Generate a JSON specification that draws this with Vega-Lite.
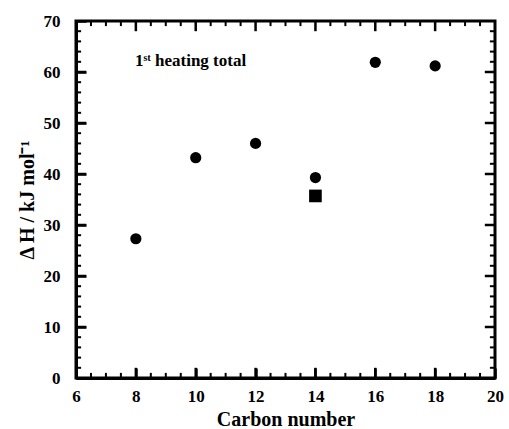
{
  "$schema": "https://vega.github.io/schema/vega-lite/v6.json",
  "width": 419,
  "height": 357,
  "autosize": {"type": "none"},
  "padding": {"left": 76, "top": 21, "right": 14, "bottom": 51},
  "config": {
    "view": {"stroke": "black", "strokeWidth": 3},
    "font": "Liberation Serif",
    "axis": {
      "domain": true,
      "domainColor": "black",
      "domainWidth": 3,
      "grid": true,
      "gridOpacity": 0,
      "tickColor": "black",
      "labelColor": "black",
      "titleColor": "black",
      "labelFont": "Liberation Serif",
      "titleFont": "Liberation Serif",
      "labelFontWeight": "bold",
      "titleFontWeight": "bold",
      "labelFontSize": 17,
      "titleFontSize": 20,
      "labelFlush": false,
      "labelOverlap": false
    }
  },
  "datasets": {
    "circles": [
      {"carbon": 8, "dH": 27.3},
      {"carbon": 10, "dH": 43.2},
      {"carbon": 12, "dH": 46.0},
      {"carbon": 14, "dH": 39.3},
      {"carbon": 16, "dH": 61.9},
      {"carbon": 18, "dH": 61.2}
    ],
    "squares": [
      {"carbon": 14, "dH": 35.7}
    ],
    "note": [
      {"carbon": 7.97, "dH": 62.2, "label": "1ˢᵗ heating total"}
    ],
    "xMajor": [{"v": 8}, {"v": 10}, {"v": 12}, {"v": 14}, {"v": 16}, {"v": 18}],
    "xMinor": [{"v": 6.5}, {"v": 7}, {"v": 7.5}, {"v": 8.5}, {"v": 9}, {"v": 9.5}, {"v": 10.5}, {"v": 11}, {"v": 11.5}, {"v": 12.5}, {"v": 13}, {"v": 13.5}, {"v": 14.5}, {"v": 15}, {"v": 15.5}, {"v": 16.5}, {"v": 17}, {"v": 17.5}, {"v": 18.5}, {"v": 19}, {"v": 19.5}],
    "yMajor": [{"v": 10}, {"v": 20}, {"v": 30}, {"v": 40}, {"v": 50}, {"v": 60}],
    "yMinor": [{"v": 2}, {"v": 4}, {"v": 6}, {"v": 8}, {"v": 12}, {"v": 14}, {"v": 16}, {"v": 18}, {"v": 22}, {"v": 24}, {"v": 26}, {"v": 28}, {"v": 32}, {"v": 34}, {"v": 36}, {"v": 38}, {"v": 42}, {"v": 44}, {"v": 46}, {"v": 48}, {"v": 52}, {"v": 54}, {"v": 56}, {"v": 58}, {"v": 62}, {"v": 64}, {"v": 66}, {"v": 68}]
  },
  "resolve": {"axis": {"x": "independent", "y": "independent"}},
  "layer": [
    {
      "data": {"name": "circles"},
      "mark": {"type": "point", "shape": "circle", "filled": true, "color": "black", "opacity": 1, "size": 125},
      "encoding": {
        "x": {
          "field": "carbon", "type": "quantitative",
          "scale": {"domain": [6, 20], "nice": false, "zero": false},
          "axis": {
            "orient": "bottom",
            "values": [6, 8, 10, 12, 14, 16, 18, 20],
            "tickSize": -10, "tickWidth": 2.5,
            "labelPadding": 20,
            "title": "Carbon number", "titlePadding": 5
          }
        },
        "y": {
          "field": "dH", "type": "quantitative",
          "scale": {"domain": [0, 70], "nice": false, "zero": true},
          "axis": {
            "orient": "left",
            "values": [0, 10, 20, 30, 40, 50, 60, 70],
            "tickSize": -10, "tickWidth": 2.5,
            "labelPadding": 26,
            "title": "Δ H / kJ mol⁻¹", "titlePadding": 6
          }
        }
      }
    },
    {
      "data": {"name": "squares"},
      "mark": {"type": "point", "shape": "square", "filled": true, "color": "black", "opacity": 1, "size": 160},
      "encoding": {
        "x": {"field": "carbon", "type": "quantitative", "axis": null},
        "y": {"field": "dH", "type": "quantitative", "axis": null}
      }
    },
    {
      "data": {"name": "note"},
      "mark": {"type": "text", "align": "left", "baseline": "middle", "font": "Liberation Serif", "fontWeight": "bold", "fontSize": 17, "color": "black"},
      "encoding": {
        "x": {"field": "carbon", "type": "quantitative", "axis": null},
        "y": {"field": "dH", "type": "quantitative", "axis": null},
        "text": {"field": "label"}
      }
    },
    {
      "data": {"name": "xMajor"},
      "mark": {"type": "rule", "color": "black", "strokeWidth": 2.5},
      "encoding": {
        "x": {"field": "v", "type": "quantitative", "axis": null},
        "y": {"datum": 0, "type": "quantitative", "axis": null},
        "y2": {"datum": 2}
      }
    },
    {
      "data": {"name": "xMajor"},
      "mark": {"type": "rule", "color": "black", "strokeWidth": 2.5},
      "encoding": {
        "x": {"field": "v", "type": "quantitative", "axis": null},
        "y": {"datum": 70, "type": "quantitative", "axis": null},
        "y2": {"datum": 68}
      }
    },
    {
      "data": {"name": "xMinor"},
      "mark": {"type": "rule", "color": "black", "strokeWidth": 2},
      "encoding": {
        "x": {"field": "v", "type": "quantitative", "axis": null},
        "y": {"datum": 0, "type": "quantitative", "axis": null},
        "y2": {"datum": 1}
      }
    },
    {
      "data": {"name": "xMinor"},
      "mark": {"type": "rule", "color": "black", "strokeWidth": 2},
      "encoding": {
        "x": {"field": "v", "type": "quantitative", "axis": null},
        "y": {"datum": 70, "type": "quantitative", "axis": null},
        "y2": {"datum": 69}
      }
    },
    {
      "data": {"name": "yMajor"},
      "mark": {"type": "rule", "color": "black", "strokeWidth": 2.5},
      "encoding": {
        "y": {"field": "v", "type": "quantitative", "axis": null},
        "x": {"datum": 6, "type": "quantitative", "axis": null},
        "x2": {"datum": 6.34}
      }
    },
    {
      "data": {"name": "yMajor"},
      "mark": {"type": "rule", "color": "black", "strokeWidth": 2.5},
      "encoding": {
        "y": {"field": "v", "type": "quantitative", "axis": null},
        "x": {"datum": 20, "type": "quantitative", "axis": null},
        "x2": {"datum": 19.66}
      }
    },
    {
      "data": {"name": "yMinor"},
      "mark": {"type": "rule", "color": "black", "strokeWidth": 2},
      "encoding": {
        "y": {"field": "v", "type": "quantitative", "axis": null},
        "x": {"datum": 6, "type": "quantitative", "axis": null},
        "x2": {"datum": 6.17}
      }
    },
    {
      "data": {"name": "yMinor"},
      "mark": {"type": "rule", "color": "black", "strokeWidth": 2},
      "encoding": {
        "y": {"field": "v", "type": "quantitative", "axis": null},
        "x": {"datum": 20, "type": "quantitative", "axis": null},
        "x2": {"datum": 19.83}
      }
    }
  ]
}
